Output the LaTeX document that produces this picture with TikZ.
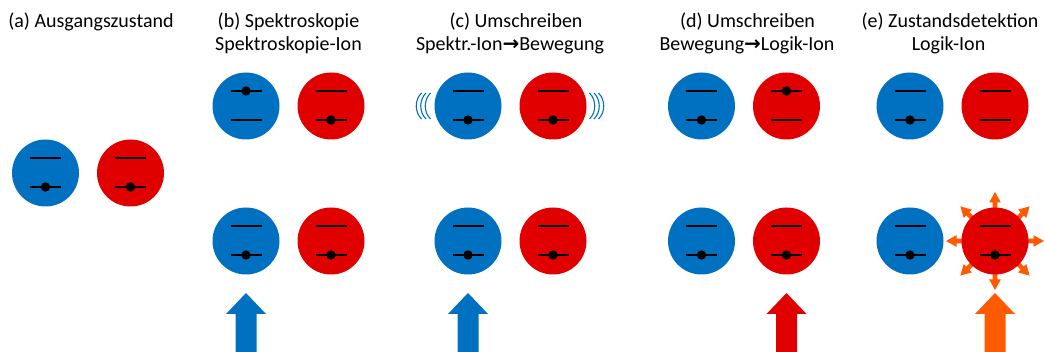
\documentclass[tikz,border=0pt]{standalone}
\usepackage{fontspec}
\setmainfont{Carlito}
\newfontfamily\dejavu{DejaVu Sans}
\definecolor{ionblue}{RGB}{0,112,192}
\definecolor{ionred}{RGB}{224,0,0}
\definecolor{glow}{RGB}{255,90,0}
\newcommand{\arr}{{\dejavu\bfseries →}}
% \ion{name}{x}{y}{colour}{state: u / l / n}
\newcommand{\ion}[5]{%
  \node[ionball,fill=#4] (#1) at (#2,#3) {};
  \draw[level] ([shift={(-15.5,-15)}]#1.center) -- ([shift={(15.5,-15)}]#1.center);
  \draw[level] ([shift={(-15.5,14)}]#1.center) -- ([shift={(15.5,14)}]#1.center);
  \ifx u#5\fill ([shift={(0,-15)}]#1.center) circle (4.7);\fi
  \ifx l#5\fill ([shift={(0,14)}]#1.center) circle (4.7);\fi
}
% \bigarrow{ion}{colour}
\newcommand{\bigarrow}[2]{%
  \fill[#2] ([shift={(0,52)}]#1.center) -- ++(20,21) -- ++(-9.5,0) -- ++(0,40)
    -- ++(-21,0) -- ++(0,-40) -- ++(-9.5,0) -- cycle;
}
\tikzset{
  ionball/.style={circle,minimum size=67,inner sep=0,draw=none},
  level/.style={line width=2.6pt},
  title/.style={anchor=base,inner sep=0,font=\fontsize{20}{24}\selectfont},
  vib/.style={ionblue,line width=1.1pt},
}
\begin{document}
\begin{tikzpicture}[x=1pt,y=-1pt]
\useasboundingbox (0,0) rectangle (1044,352);
% titles
\node[title] (ta) at (91,27.3) {(a) Ausgangszustand};
\node[title] (tb1) at (288.5,27.3) {(b) Spektroskopie};
\node[title] (tb2) at (288.5,51) {Spektroskopie-Ion};
\node[title] (tc1) at (516,27.3) {(c) Umschreiben};
\node[title] (tc2) at (510,51) {Spektr.-Ion\arr Bewegung};
\node[title] (td1) at (747.5,27.3) {(d) Umschreiben};
\node[title] (td2) at (747,51) {Bewegung\arr Logik-Ion};
\node[title] (te1) at (950,27.3) {(e) Zustandsdetektion};
\node[title] (te2) at (948.5,51) {Logik-Ion};
% (a)
\ion{ab}{45.5}{173}{ionblue}{l}
\ion{ar}{130.5}{173}{ionred}{l}
% (b)
\ion{b1b}{246}{106}{ionblue}{u}
\ion{b1r}{331}{106}{ionred}{l}
\ion{b2b}{246}{241}{ionblue}{l}
\ion{b2r}{331}{241}{ionred}{l}
% (c)
\ion{c1b}{468}{106}{ionblue}{l}
\ion{c1r}{553}{106}{ionred}{l}
\ion{c2b}{468}{241}{ionblue}{l}
\ion{c2r}{553}{241}{ionred}{l}
\foreach \o in {-52,-47.5,-43}{
  \draw[vib] ([shift={(\o+5.5,-13)}]c1b.center) .. controls ([shift={(\o-1.5,-6)}]c1b.center) and ([shift={(\o-1.5,6)}]c1b.center) .. ([shift={(\o+5.5,13)}]c1b.center);
}
\foreach \o in {51,46.5,42}{
  \draw[vib] ([shift={(\o-5.5,-13)}]c1r.center) .. controls ([shift={(\o+1.5,-6)}]c1r.center) and ([shift={(\o+1.5,6)}]c1r.center) .. ([shift={(\o-5.5,13)}]c1r.center);
}
% (d)
\ion{d1b}{701.5}{106}{ionblue}{l}
\ion{d1r}{786.5}{106}{ionred}{u}
\ion{d2b}{701.5}{241}{ionblue}{l}
\ion{d2r}{786.5}{241}{ionred}{l}
% (e)
\ion{e1b}{910}{106}{ionblue}{l}
\ion{e1r}{995}{106}{ionred}{n}
\coordinate (eglow) at (995,241);
\foreach \a in {0,45,...,315}{
  \fill[glow,shift={(eglow)},rotate=\a]
    (30,-2.3) -- (38.5,-2.3) -- (38.5,-5.8) -- (49,0) -- (38.5,5.8) -- (38.5,2.3) -- (30,2.3) -- cycle;
}
\ion{e2b}{910}{241}{ionblue}{l}
\ion{e2r}{995}{241}{ionred}{l}
% big arrows
\bigarrow{b2b}{ionblue}
\bigarrow{c2b}{ionblue}
\bigarrow{d2r}{ionred}
\bigarrow{e2r}{glow}
\end{tikzpicture}
\end{document}
